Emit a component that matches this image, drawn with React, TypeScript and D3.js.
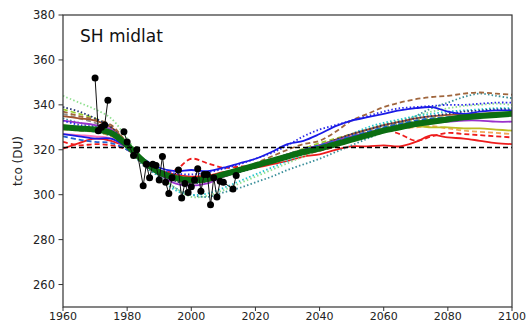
import * as d3 from "d3";

const W = 527;
const H = 322;
const MARGIN = { top: 15, right: 15, bottom: 15, left: 63 };

// model years, 5-yearly
const years = [
  1960, 1965, 1970, 1975, 1980, 1985, 1990, 1995, 2000, 2005, 2010, 2015, 2020, 2025, 2030,
  2035, 2040, 2045, 2050, 2055, 2060, 2065, 2070, 2075, 2080, 2085, 2090, 2095, 2100,
];

const redSolid = [320.5, 323, 325, 324, 321, 315, 311, 309, 308, 308.5, 310, 311, 312, 313.5, 315, 317, 318, 320, 321.5, 321.5, 322, 321.5, 323.5, 326.5, 325.5, 325, 324, 323, 322.5];
const redDashed = [323.5, 322, 322.5, 322, 320, 314, 310, 311, 316, 314, 312, 312.5, 313, 315, 317, 318, 319.5, 321.5, 324, 327, 329, 327, 324, 326, 327.5, 327, 326.5, 326, 325.5];
const blueSolid = [327, 326, 325, 325, 321, 316, 312, 310.5, 311, 310.5, 312, 314, 316, 319, 322.5, 324, 327, 330.5, 333, 334.5, 336, 337.5, 338.5, 339, 337, 336, 337, 337.5, 337.5];
const blueDotted = [333, 331, 330, 328, 322, 315, 311, 309.5, 309, 310, 311.5, 313.5, 316, 318.5, 322, 326, 329, 331, 333, 335, 337, 338.5, 339, 339.5, 340, 340, 340.5, 341, 341];
const brownDashed = [337, 335, 333.5, 331, 323, 315, 310, 307.5, 306, 307, 308.5, 311, 314, 317, 320, 322.5, 324, 328, 333, 336, 339, 341, 342.5, 343.5, 344, 345, 345.5, 345, 344.5];
const tealDotted = [334, 332, 330.5, 328, 321, 313, 308, 303, 300, 299, 301, 303, 305.5, 308, 311, 313.5, 316, 319, 322, 325, 328, 331, 335, 338.5, 341, 343.5, 345, 344, 343];
const lightGreenDotted = [344, 341, 338, 334, 325, 315, 309, 303, 299, 299.5, 302, 305, 308, 311, 314, 317, 320, 323, 326, 329, 331.5, 333, 335, 337, 338.5, 339.5, 340, 340.5, 340];
const purpleSolid = [333, 332, 331, 329, 322, 314, 309, 305, 304, 305, 308, 310.5, 312.5, 315, 317.5, 320, 322, 324, 326, 327.5, 329, 330.5, 331.5, 332, 332.5, 333, 333, 332.5, 332.5];
const oliveSolid = [331, 330, 329.5, 327, 321, 315, 310, 307, 306, 307, 309, 311, 313, 315, 317, 319, 321, 323, 325, 327, 328.5, 329.5, 330.5, 330, 330, 329.5, 329.5, 329, 328.5];
const tanDashed = [329, 328.5, 328, 326, 321, 315, 310, 306.5, 305, 306, 308, 310.5, 313, 315, 317, 319, 321, 323, 325, 327, 328.5, 329.5, 330, 330.5, 329.5, 328.5, 328, 327.5, 327];
const brownSolid = [335, 334, 333, 330, 323, 315, 310, 307, 305.5, 306, 308, 310.5, 313, 315.5, 318, 320, 322, 324.5, 327, 329, 331, 332.5, 334, 335, 335.5, 336, 336, 336.5, 336];
const grayDashed = [336, 334, 332, 329, 322, 314, 309, 306, 305, 306, 308, 310, 312.5, 315, 317.5, 320, 322, 324, 326, 328, 330, 331.5, 332.5, 333.5, 334, 334.5, 335, 335, 335];
const pinkSolid = [327, 326.5, 326, 325, 321, 315, 310, 307, 306, 306.5, 308.5, 310.5, 312.5, 314.5, 317, 319, 321, 323, 325, 327, 329, 330.5, 332, 333, 334, 334.5, 335, 335, 335.5];
const navyDotted = [339, 337, 334, 330, 322, 314, 309, 306, 305, 306, 308, 310, 312, 314.5, 317, 320, 322, 324.5, 327, 329, 331, 332.5, 334, 335, 336, 337, 337.5, 338, 338];
const cyanDotted = [330, 329, 328, 326, 321, 314, 308, 302, 300, 300.5, 303, 306, 309, 312, 315, 318, 321, 324, 327, 330, 332, 333.5, 335, 336, 337, 337.5, 338, 338.5, 338.5];
const yellowGreenDashed = [338, 336, 334, 330, 323, 315, 310, 307, 306, 306.5, 308.5, 311, 313, 315.5, 318, 320.5, 323, 325, 327, 329, 330.5, 332, 333, 334, 334.5, 335, 335.5, 336, 336];
const blueDashed = [326, 324.5, 323.5, 323, 320, 315, 311, 308, 307, 307.5, 309.5, 311.5, 313.5, 315.5, 318, 320, 322, 324, 326, 328, 330, 331.5, 333, 334, 334.5, 335, 335.5, 336, 336.5];

const multiModelMean = [330, 329.5, 329, 327.5, 322, 315, 310, 307.5, 306.5, 307, 309, 311, 313, 315, 317, 319, 320.5, 322.5, 324.5, 326.5, 328.5, 330, 331.5, 332.5, 333.5, 334.5, 335, 335.5, 336];

// observations (null = gap)
const obsYears = [
  1970, 1971, 1972, 1973, 1974, 1976, 1979, 1980, 1982, 1983, 1985, 1986, 1987, 1988, 1989, 1990,
  1991, 1992, 1993, 1994, 1996, 1997, 1998, 1999, 2000, 2001, 2002, 2003, 2004, 2005, 2006, 2007,
  2008, 2009, 2010, 2013, 2014,
];
const obsValues = [
  352, 328.5, 330, 331, 342, null, 328, 323.5, 317.5, 320, 304, 313.5, 307.5, 313.5, 313, 306.5,
  317, 305.5, 300.5, 307.5, 311, 298.5, 305, 301, 303.5, 306.5, 311.5, 301.5, 309, 309, 295.5, 307.5,
  299, 306, 305.5, 302.5, 308.5,
];

const xTicks = [1960, 1980, 2000, 2020, 2040, 2060, 2080, 2100];
const yTicks = [260, 280, 300, 320, 340, 360, 380];
const referenceValue = 321;

const DASH = "5,3";
const DOT = "1.5,2.2";

const models = [
  { values: redSolid, color: "#ee1c1c", dash: null },
  { values: redDashed, color: "#ee1c1c", dash: DASH },
  { values: lightGreenDotted, color: "#8fe08f", dash: DOT },
  { values: tealDotted, color: "#3a8f9a", dash: DOT },
  { values: cyanDotted, color: "#22c4cc", dash: DOT },
  { values: yellowGreenDashed, color: "#9acd32", dash: DASH },
  { values: tanDashed, color: "#f2a65a", dash: DASH },
  { values: oliveSolid, color: "#bcbd22", dash: null },
  { values: pinkSolid, color: "#ff77bb", dash: null },
  { values: grayDashed, color: "#909090", dash: DASH },
  { values: brownSolid, color: "#a0522d", dash: null },
  { values: brownDashed, color: "#a0663d", dash: DASH },
  { values: navyDotted, color: "#203070", dash: DOT },
  { values: purpleSolid, color: "#9932cc", dash: null },
  { values: blueDashed, color: "#2060d0", dash: DASH },
  { values: blueDotted, color: "#2a2ae8", dash: DOT },
  { values: blueSolid, color: "#1a1ae6", dash: null },
];

export default function App() {
  const x = d3.scaleLinear().domain([1960, 2100]).range([MARGIN.left, W - MARGIN.right]);
  const y = d3.scaleLinear().domain([250, 380]).range([H - MARGIN.bottom, MARGIN.top]);

  const modelLine = d3
    .line<number>()
    .x((_, i) => x(years[i]))
    .y((d) => y(d))
    .curve(d3.curveCatmullRom.alpha(0.5));

  const obsPoints = obsYears.map((yr, i) => ({ yr, v: obsValues[i] }));
  const obsLine = d3
    .line<{ yr: number; v: number | null }>()
    .defined((d) => d.v != null)
    .x((d) => x(d.yr))
    .y((d) => y(d.v as number));

  const x0 = MARGIN.left;
  const x1 = W - MARGIN.right;
  const yTop = MARGIN.top;
  const yBot = H - MARGIN.bottom;
  const font = "DejaVu Sans, sans-serif";

  return (
    <svg
      width={W}
      height={H}
      style={{ position: "absolute", left: 0, top: 0, background: "#fff" }}
    >
      <defs>
        <clipPath id="plot">
          <rect x={x0} y={yTop} width={x1 - x0} height={yBot - yTop} />
        </clipPath>
      </defs>

      <g clipPath="url(#plot)">
        {models.map((m, i) => (
          <path
            key={i}
            d={modelLine(m.values) || ""}
            fill="none"
            stroke={m.color}
            strokeWidth={1.8}
            strokeDasharray={m.dash || undefined}
          />
        ))}
        <path
          d={modelLine(multiModelMean) || ""}
          fill="none"
          stroke="#0b6e12"
          strokeWidth={6}
          strokeLinecap="round"
        />
        <line
          x1={x0}
          x2={x1}
          y1={y(referenceValue)}
          y2={y(referenceValue)}
          stroke="#000"
          strokeWidth={1.5}
          strokeDasharray="5,3"
        />
        <path d={obsLine(obsPoints) || ""} fill="none" stroke="#111" strokeWidth={1} />
        {obsPoints
          .filter((d) => d.v != null)
          .map((d, i) => (
            <circle key={i} cx={x(d.yr)} cy={y(d.v as number)} r={3.5} fill="#000" />
          ))}
      </g>

      {/* frame */}
      <rect x={x0} y={yTop} width={x1 - x0} height={yBot - yTop} fill="none" stroke="#333" strokeWidth={1.2} />

      {/* y axis */}
      {yTicks.map((t) => (
        <g key={t}>
          <line x1={x0 - 4.5} x2={x0} y1={y(t)} y2={y(t)} stroke="#333" strokeWidth={1} />
          <text
            x={x0 - 8}
            y={y(t)}
            dy="0.35em"
            textAnchor="end"
            fontFamily={font}
            fontSize={11.5}
            fill="#222"
          >
            {t}
          </text>
        </g>
      ))}

      {/* x axis */}
      {xTicks.map((t) => (
        <g key={t}>
          <line x1={x(t)} x2={x(t)} y1={yBot} y2={yBot + 4} stroke="#333" strokeWidth={1} />
          <text
            x={x(t)}
            y={yBot + 12.5}
            textAnchor="middle"
            fontFamily={font}
            fontSize={11}
            fill="#222"
          >
            {t}
          </text>
        </g>
      ))}

      <text
        transform={`translate(22, ${(yTop + yBot) / 2}) rotate(-90)`}
        textAnchor="middle"
        fontFamily={font}
        fontSize={12}
        fill="#222"
      >
        tco (DU)
      </text>

      <text x={80} y={42} fontFamily={font} fontSize={17} fill="#111">
        SH midlat
      </text>
    </svg>
  );
}
